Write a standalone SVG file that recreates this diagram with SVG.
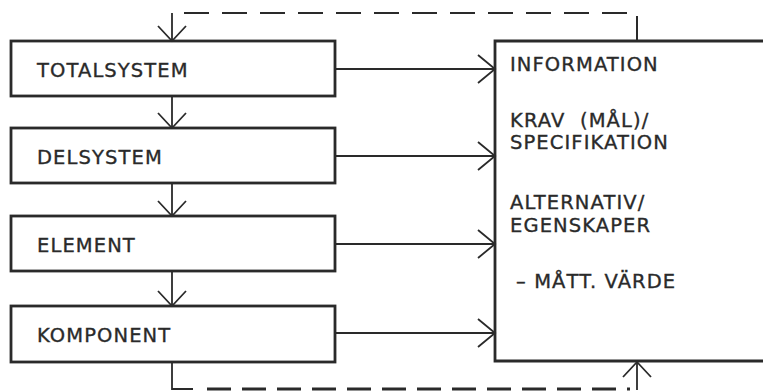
<svg xmlns="http://www.w3.org/2000/svg" width="763" height="391" viewBox="0 0 763 391">
<style>
.box{fill:none;stroke:#2a2a2a;stroke-width:2.8}
.ln{fill:none;stroke:#2a2a2a;stroke-width:1.8}
.ah{fill:none;stroke:#2a2a2a;stroke-width:1.8;stroke-linejoin:miter}
.dash{fill:none;stroke:#2a2a2a;stroke-width:2;stroke-dasharray:25 13}
.dash2{fill:none;stroke:#2a2a2a;stroke-width:3;stroke-dasharray:24 11}
text{font-family:"DejaVu Sans",sans-serif;font-size:19.5px;fill:#2a2a2a;stroke:#2a2a2a;stroke-width:0.35;letter-spacing:1.1px}
</style>
<rect width="763" height="391" fill="#ffffff"/>
<g id="connectors">
<path class="dash" d="M637,41 V13 H172"/>
<path class="ln" d="M172,13 V41"/>
<path class="ah" d="M158,26 L172,41 L186,26"/>
<path class="ln" d="M172,96 V128"/>
<path class="ah" d="M158,113 L172,128 L186,113"/>
<path class="ln" d="M172,183 V216"/>
<path class="ah" d="M158,201 L172,216 L186,201"/>
<path class="ln" d="M172,271 V306"/>
<path class="ah" d="M158,291 L172,306 L186,291"/>
<path class="ln" d="M335,69 H495"/>
<path class="ah" d="M478,55 L495,69 L478,83"/>
<path class="ln" d="M335,156 H495"/>
<path class="ah" d="M478,142 L495,156 L478,170"/>
<path class="ln" d="M335,244 H495"/>
<path class="ah" d="M478,230 L495,244 L478,258"/>
<path class="ln" d="M335,333 H495"/>
<path class="ah" d="M478,319 L495,333 L478,347"/>
<path class="ln" d="M172,362 V389 H193"/>
<path class="dash2" d="M207,389 H630"/>
<path class="ln" d="M637,390 V362"/>
<path class="ah" d="M623,377 L637,362 L651,377"/>
</g>
<g id="totalsystem"><rect class="box" x="11" y="41" width="324" height="55"/><text x="37" y="77">TOTALSYSTEM</text></g>
<g id="delsystem"><rect class="box" x="11" y="128" width="324" height="55"/><text x="37" y="164">DELSYSTEM</text></g>
<g id="element"><rect class="box" x="11" y="216" width="324" height="55"/><text x="37" y="252">ELEMENT</text></g>
<g id="komponent"><rect class="box" x="11" y="306" width="324" height="56"/><text x="37" y="342">KOMPONENT</text></g>
<g id="info"><path class="box" d="M770,41 H495 V361 H770"/>
<text x="510" y="71">INFORMATION</text>
<text x="510" y="127" xml:space="preserve">KRAV  (MÅL)/</text>
<text x="510" y="149">SPECIFIKATION</text>
<text x="510" y="209">ALTERNATIV/</text>
<text x="510" y="232">EGENSKAPER</text>
<text x="516" y="288">– MÅTT. VÄRDE</text>
</g>
</svg>
